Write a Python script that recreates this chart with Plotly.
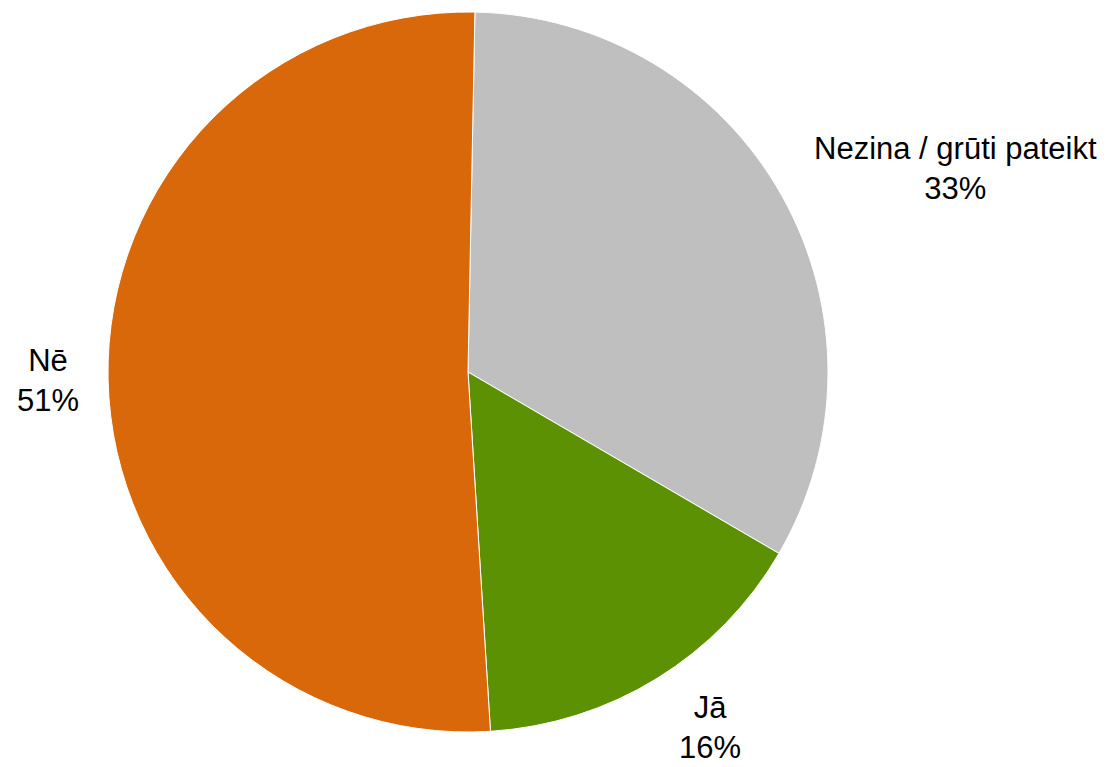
import plotly.graph_objects as go

labels = ["Nezina / grūti pateikt", "Jā", "Nē"]
values = [33.1, 15.6, 51.3]
colors = ["#BFBFBF", "#5C9104", "#D86809"]

W, H = 1110, 767
# label centres in pixels
label_px = [(955, 168), (710, 727), (48, 380)]

fig = go.Figure(go.Pie(
    labels=labels, values=values, sort=False, direction="clockwise",
    rotation=1.1, marker=dict(colors=colors, line=dict(color="white", width=1)),
    textinfo="none", hoverinfo="label+percent", showlegend=False,
    domain=dict(x=[108 / W, 828 / W], y=[1 - 732 / H, 1 - 12 / H]),
))

total = sum(values)
for lab, v, (px, py) in zip(labels, values, label_px):
    fig.add_annotation(
        text=f"{lab}<br>{round(100 * v / total)}%", x=px / W, y=1 - py / H,
        xref="paper", yref="paper", showarrow=False, xanchor="center", yanchor="middle",
        font=dict(family="Liberation Sans, Arial", size=31, color="black"), align="center",
    )

fig.update_layout(width=W, height=H, margin=dict(l=0, r=0, t=0, b=0),
                  paper_bgcolor="white", plot_bgcolor="white")
fig.write_html("out.html", config={"displayModeBar": False},
               post_script="document.body.style.margin='0';document.body.style.overflow='hidden';")
